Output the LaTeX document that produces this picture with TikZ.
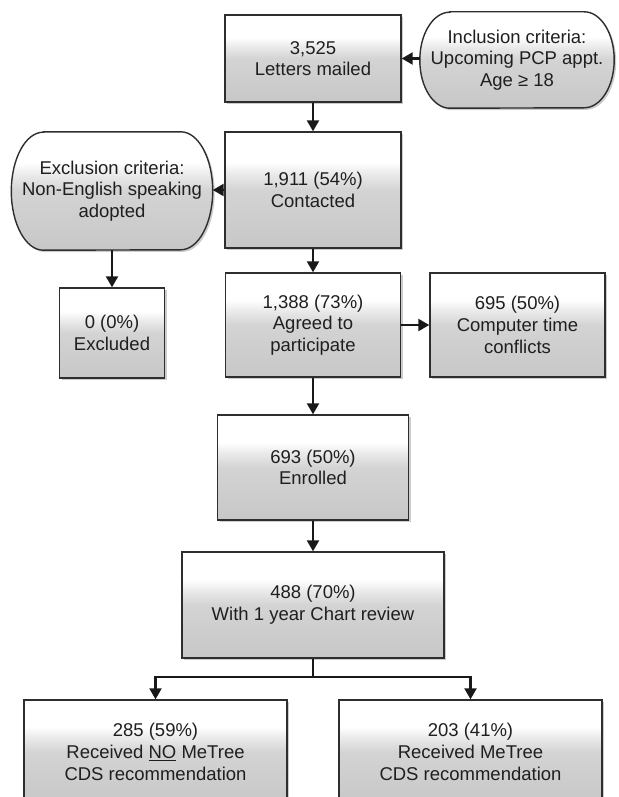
\documentclass[tikz,border=0pt]{standalone}
\usepackage{fontspec}
\setmainfont{Liberation Sans}
\usetikzlibrary{arrows.meta, shadows, backgrounds}
\pgfdeclareverticalshading{boxfade}{100bp}{color(0bp)=(black!22); color(25bp)=(black!22); color(50bp)=(black!17); color(57bp)=(black!8); color(62bp)=(white); color(100bp)=(white)}
\tikzset{
  flownode/.style = {align=center, inner sep=1pt, text centered, text=black!88,
    font=\fontsize{18.5}{21.7}\selectfont},
  boxlook/.style = {draw=black!82, line width=1.4pt, shade, shading=boxfade,
    drop shadow={shadow xshift=2pt, shadow yshift=-2pt, opacity=0.4}},
  bx/.style = {flownode, rectangle, boxlook},
  crit/.style = {flownode, rectangle, draw=none},
  arr/.style = {black!90, line width=2.3pt, -{Triangle[length=11pt, width=12pt]}},
  stem/.style = {black!90, line width=2.3pt},
}

\begin{document}
\begin{tikzpicture}[x=1pt, y=1pt]
\useasboundingbox (0,0) rectangle (618,-797);
\clip (0,0) rectangle (618,-797);

\node [bx, minimum width=176pt, minimum height=87pt] (mailed) at (313,-58.5) {3,525\\Letters mailed};
\node [crit, minimum width=194pt, minimum height=96pt] (incl) at (517,-60) {Inclusion criteria:\\Upcoming PCP appt.\\Age ≥ 18};

\node [bx, minimum width=176pt, minimum height=116pt] (contacted) at (313,-190) {1,911 (54\%)\\Contacted};
\node [crit, minimum width=201pt, minimum height=118pt] (excl) at (112,-191) {Exclusion criteria:\\Non-English speaking\\adopted};
\node [bx, minimum width=105pt, minimum height=90pt] (excluded) at (112,-333) {0 (0\%)\\Excluded};

\node [bx, minimum width=175pt, minimum height=104pt] (agreed) at (313,-325) {1,388 (73\%)\\Agreed to\\participate};
\node [bx, minimum width=175pt, minimum height=104pt] (conflicts) at (517.5,-325) {695 (50\%)\\Computer time\\conflicts};

\node [bx, minimum width=191pt, minimum height=105pt] (enrolled) at (313,-467.5) {693 (50\%)\\Enrolled};
\node [bx, minimum width=262pt, minimum height=106pt] (chart) at (313,-605) {488 (70\%)\\With 1 year Chart review};

\node [bx, minimum width=263pt, minimum height=104pt] (noCDS) at (155.5,-752) {285 (59\%)\\Received \underline{NO} MeTree\\CDS recommendation};
\node [bx, minimum width=263pt, minimum height=104pt] (CDS) at (470.5,-752) {203 (41\%)\\Received MeTree\\CDS recommendation};

\begin{scope}[on background layer]
\path [boxlook] ([xshift=30pt]incl.north west) -- ([xshift=-30pt]incl.north east)
  arc [start angle=90, end angle=-90, x radius=30pt, y radius=48pt]
  -- ([xshift=30pt]incl.south west)
  arc [start angle=270, end angle=90, x radius=30pt, y radius=48pt] -- cycle;
\path [boxlook] ([xshift=32pt]excl.north west) -- ([xshift=-32pt]excl.north east)
  arc [start angle=90, end angle=-90, x radius=32pt, y radius=59pt]
  -- ([xshift=32pt]excl.south west)
  arc [start angle=270, end angle=90, x radius=32pt, y radius=59pt] -- cycle;
\end{scope}

\draw [arr] (incl.west |- mailed.east) -- (mailed.east);
\draw [arr] (mailed.south) -- (contacted.north);
\draw [arr] (contacted.west) -- (contacted.west -| excl.east);
\draw [arr] (excl.south) -- (excluded.north);
\draw [arr] (contacted.south) -- (agreed.north);
\draw [arr] (agreed.east) -- (conflicts.west);
\draw [arr] (agreed.south) -- (enrolled.north);
\draw [arr] (enrolled.south) -- (chart.north);

\coordinate (split) at (313,-677);
\draw [stem] (chart.south) -- (split);
\draw [arr] (split) -| (noCDS.north);
\draw [arr] (split) -| (CDS.north);
\end{tikzpicture}
\end{document}
